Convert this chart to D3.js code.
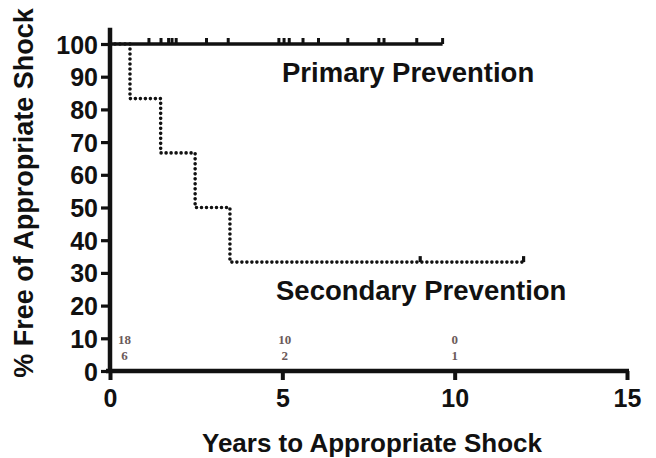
<!DOCTYPE html>
<html>
<head>
<meta charset="utf-8">
<script src="https://cdn.jsdelivr.net/npm/d3@7"></script>
<style>
  body { margin: 0; background: #fff; }
  svg text { font-family: "Liberation Sans", Arial, sans-serif; font-weight: bold; fill: #111; }
  .risk { font-family: "Liberation Serif", serif; font-weight: bold; fill: #6b5a5a; font-size: 13px; }
</style>
</head>
<body>
<svg id="chart" width="656" height="458"></svg>
<script>
// Kaplan-Meier steps (years, % free of shock)
let primaryTimes = [0, 9.65];
let primarySurv = [100, 100];
let primaryCensor = [1.13, 1.48, 1.7, 1.8, 1.92, 2.8, 3.43, 4.9, 5.05, 5.2, 5.6, 6.05, 6.9, 7.8, 7.95, 8.9, 9.65];

let secondaryTimes = [0, 0.58, 1.47, 2.47, 3.48, 12];
let secondarySurv = [100, 83.3, 66.7, 50, 33.3, 33.3];
let secondaryCensor = [9, 12];

// numbers at risk
let riskTimes = [0.42, 5.07, 10];
let riskPrimary = ["18", "10", "0"];
let riskSecondary = ["6", "2", "1"];

let xTicks = [0, 5, 10, 15];
let yTicks = [0, 10, 20, 30, 40, 50, 60, 70, 80, 90, 100];

const svg = d3.select("#chart");
const x = d3.scaleLinear().domain([0, 15]).range([110, 627]);
const y = d3.scaleLinear().domain([0, 100]).range([371, 44]);

function pts(times, surv) {
  return times.map((t, i) => [t, surv[i]]);
}

let step = d3.line().curve(d3.curveStepAfter)
  .x(d => x(d[0]))
  .y(d => y(d[1]));

// secondary (dotted)
svg.append("path")
  .datum(pts(secondaryTimes, secondarySurv))
  .attr("d", step)
  .attr("fill", "none")
  .attr("stroke", "#111")
  .attr("stroke-width", 3.6)
  .attr("stroke-linecap", "round")
  .attr("stroke-dasharray", "0,5");

svg.selectAll(".sc").data(secondaryCensor).enter().append("line")
  .attr("x1", d => x(d)).attr("x2", d => x(d))
  .attr("y1", y(33.3)).attr("y2", y(33.3) - 6)
  .attr("stroke", "#111").attr("stroke-width", 3.2);

// primary (solid)
svg.append("path")
  .datum(pts(primaryTimes, primarySurv))
  .attr("d", step)
  .attr("fill", "none")
  .attr("stroke", "#111")
  .attr("stroke-width", 3.6);

svg.selectAll(".pc").data(primaryCensor).enter().append("line")
  .attr("x1", d => x(d)).attr("x2", d => x(d))
  .attr("y1", y(100)).attr("y2", y(100) - 6)
  .attr("stroke", "#111").attr("stroke-width", 3);

// axes
let yAxis = d3.axisLeft(y).tickValues(yTicks).tickSize(9).tickPadding(3);
let gy = svg.append("g").attr("transform", "translate(" + x(0) + ",0)").call(yAxis);
gy.select(".domain").remove();
gy.selectAll(".tick line").attr("stroke", "#111").attr("stroke-width", 3.2);
gy.selectAll(".tick text").style("font-size", "25px").attr("dy", "0.36em");
gy.append("line")
  .attr("x1", 0).attr("x2", 0)
  .attr("y1", y(0) + 2).attr("y2", y(105))
  .attr("stroke", "#111").attr("stroke-width", 4.5);

let xAxis = d3.axisBottom(x).tickValues(xTicks).tickSize(9).tickPadding(4);
let gx = svg.append("g").attr("transform", "translate(0," + y(0) + ")").call(xAxis);
gx.select(".domain").remove();
gx.selectAll(".tick line").attr("stroke", "#111").attr("stroke-width", 4);
gx.selectAll(".tick text").style("font-size", "25px").attr("dy", "0.9em");
gx.append("line")
  .attr("x1", x(0) - 4).attr("x2", x(15) + 2)
  .attr("y1", 0).attr("y2", 0)
  .attr("stroke", "#111").attr("stroke-width", 4.5);

// at-risk numbers
svg.selectAll(".r1").data(riskTimes).enter().append("text")
  .attr("class", "risk")
  .attr("x", d => x(d)).attr("y", 344)
  .attr("text-anchor", "middle")
  .text((d, i) => riskPrimary[i]);
svg.selectAll(".r2").data(riskTimes).enter().append("text")
  .attr("class", "risk")
  .attr("x", d => x(d)).attr("y", 360)
  .attr("text-anchor", "middle")
  .text((d, i) => riskSecondary[i]);

// curve labels
svg.append("text").attr("x", 282).attr("y", 82)
  .style("font-size", "27.5px").text("Primary Prevention");
svg.append("text").attr("x", 276).attr("y", 300)
  .style("font-size", "27.5px").text("Secondary Prevention");

// axis titles
svg.append("text")
  .attr("x", 372).attr("y", 452)
  .attr("text-anchor", "middle")
  .style("font-size", "26px")
  .text("Years to Appropriate Shock");
svg.append("text")
  .attr("transform", "translate(33,193) rotate(-90)")
  .attr("text-anchor", "middle")
  .style("font-size", "27px")
  .text("% Free of Appropriate Shock");
</script>
</body>
</html>
